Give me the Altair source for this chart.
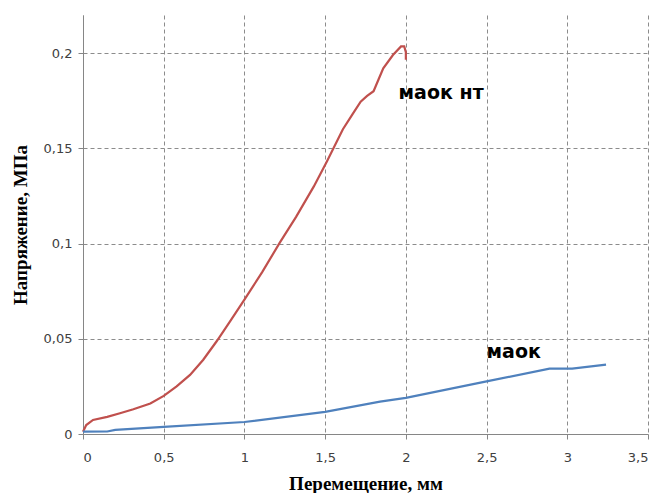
import altair as alt
import pandas as pd

# Red curve "маок нт"
red_x = [0.0, 0.02, 0.062, 0.15, 0.229, 0.312, 0.417, 0.5, 0.58, 0.663, 0.745, 0.828, 0.91, 1.0,
         1.11, 1.22, 1.32, 1.43, 1.51, 1.61, 1.67, 1.72, 1.76, 1.80, 1.83, 1.86, 1.92, 1.97, 1.99, 2.0, 2.0]
red_y = [0.0012, 0.0047, 0.0074, 0.009, 0.0109, 0.013, 0.016, 0.020, 0.025, 0.031, 0.039, 0.0487, 0.059, 0.0706,
         0.085, 0.1006, 0.114, 0.130, 0.143, 0.160, 0.168, 0.1745, 0.1775, 0.180, 0.186, 0.192, 0.199, 0.2035, 0.2035, 0.2005, 0.1965]

# Blue curve "маок"
blue_x = [0.0, 0.15, 0.2, 0.5, 1.0, 1.5, 1.84, 2.0, 2.5, 2.89, 3.03, 3.24]
blue_y = [0.0012, 0.0013, 0.0022, 0.0037, 0.0063, 0.0116, 0.017, 0.019, 0.0276, 0.0343, 0.0343, 0.0364]

label_text = ["маок нт", "маок"]
label_x = [1.955, 2.5]
label_y = [0.179, 0.0432]

rows = []
for i, (x, y) in enumerate(zip(red_x, red_y)):
    rows.append({"x": x, "y": y, "s": "маок нт", "i": i})
for i, (x, y) in enumerate(zip(blue_x, blue_y)):
    rows.append({"x": x, "y": y, "s": "маок", "i": i})
df = pd.DataFrame(rows)
lab = pd.DataFrame({"t": label_text, "x": label_x, "y": label_y})

xs = alt.Scale(domain=[0, 3.5], nice=False)
ys = alt.Scale(domain=[0, 0.22], nice=False)

lines = alt.Chart(df).mark_line(strokeWidth=2.2).encode(
    x=alt.X("x:Q", scale=xs,
            axis=alt.Axis(title="Перемещение, мм", values=[0, 0.5, 1, 1.5, 2, 2.5, 3, 3.5],
                          labelExpr="replace(format(datum.value, '~g'), '.', ',')")),
    y=alt.Y("y:Q", scale=ys,
            axis=alt.Axis(title="Напряжение, МПа", values=[0, 0.05, 0.1, 0.15, 0.2],
                          labelExpr="replace(format(datum.value, '~g'), '.', ',')")),
    color=alt.Color("s:N", scale=alt.Scale(domain=["маок нт", "маок"], range=["#C0504D", "#4F81BD"]), legend=None),
    order="i:Q",
)

labels = alt.Chart(lab).mark_text(align="left", baseline="middle", font="DejaVu Sans",
                                  fontWeight="bold", fontSize=19, color="black").encode(
    x=alt.X("x:Q", scale=xs), y=alt.Y("y:Q", scale=ys), text="t:N")

chart = (lines + labels).properties(
    width=565, height=419,
    autosize=alt.AutoSizeParams(type="none"),
    padding={"left": 83, "top": 15, "right": 12, "bottom": 59},
).configure_view(stroke=None).configure_axis(
    domainColor="#868686", tickColor="#868686", tickSize=5,
    gridColor="#8c8c8c", gridDash=[4, 3], gridWidth=1,
    labelFont="DejaVu Sans", labelFontSize=13, labelColor="#404040",
    titleFont="Liberation Serif", titleFontSize=19, titleFontWeight="bold", titleColor="black",
).configure_axisX(labelPadding=12, titlePadding=10).configure_axisY(labelPadding=6, titlePadding=13)

chart.save("out.html", embed_options={"renderer": "svg", "actions": False})
